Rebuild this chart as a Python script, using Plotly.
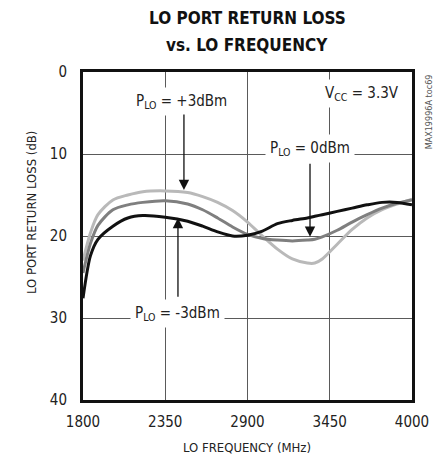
import plotly.graph_objects as go

# LO frequency (MHz)
freq = [1800, 1850, 1900, 2000, 2100, 2200, 2350, 2500, 2600, 2700, 2800, 2900,
        3000, 3100, 3200, 3300, 3350, 3400, 3500, 3600, 3700, 3800, 3900, 4000]

# return loss (dB) per LO power
rl_p3 = [23.0, 19.6, 17.4, 15.6, 15.0, 14.6, 14.5, 14.7, 15.2, 15.9, 16.9, 18.3,
         20.0, 21.6, 22.8, 23.3, 23.3, 22.8, 21.0, 19.2, 17.8, 16.8, 16.1, 15.5]
rl_0 = [24.5, 20.9, 18.7, 16.8, 16.2, 15.9, 15.7, 16.1, 16.8, 17.8, 18.9, 19.8,
        20.3, 20.5, 20.6, 20.5, 20.4, 20.1, 19.3, 18.3, 17.4, 16.6, 16.0, 15.6]
rl_m3 = [27.6, 22.4, 20.4, 18.8, 17.8, 17.5, 17.7, 18.2, 18.8, 19.5, 20.0, 19.9,
         19.4, 18.5, 18.1, 17.8, 17.6, 17.4, 17.0, 16.6, 16.2, 15.9, 15.9, 16.2]

x_ticks = [1800, 2350, 2900, 3450, 4000]
y_ticks = [0, 10, 20, 30, 40]

FONT = "DejaVu Sans Condensed"

fig = go.Figure()
for ys, col in [(rl_p3, "#b9b9b9"), (rl_0, "#7f7f7f"), (rl_m3, "#111111")]:
    fig.add_trace(go.Scatter(x=freq, y=ys, mode="lines",
                             line=dict(color=col, width=3, shape="spline", smoothing=0.8),
                             showlegend=False, hoverinfo="skip"))

labels = [
    ("P<sub>LO</sub> = +3dBm", 2456, 3.6),
    ("P<sub>LO</sub> = 0dBm", 3318, 9.3),
    ("P<sub>LO</sub> = -3dBm", 2435, 29.4),
    ("V<sub>CC</sub> = 3.3V", 3666, 2.6),
]
for txt, lx, ly in labels:
    fig.add_annotation(x=lx, y=ly, text=txt, showarrow=False, bgcolor="white",
                       borderpad=4, font=dict(family=FONT, size=15, color="#222"))

# arrows: (x, tip y, tail y)
arrows = [(2475, 14.4, 5.0), (3318, 20.1, 11.0), (2435, 17.8, 27.6)]
for axx, tip, tail in arrows:
    fig.add_annotation(x=axx, y=tip, ax=axx, ay=tail, axref="x", ayref="y",
                       text="", showarrow=True, arrowhead=2, arrowsize=1.6,
                       arrowwidth=1.3, arrowcolor="#111")

# title, two lines
for txt, ty in [("<b>LO PORT RETURN LOSS</b>", 1.165), ("<b>vs. LO FREQUENCY</b>", 1.082)]:
    fig.add_annotation(x=0.4985, y=ty, xref="paper", yref="paper", text=txt,
                       showarrow=False, xanchor="center", yanchor="middle",
                       font=dict(family=FONT, size=17, color="#111"))

fig.add_annotation(x=1.03, y=1.0, xref="paper", yref="paper", text="MAX19996A toc69",
                   showarrow=False, textangle=-90, xanchor="left", yanchor="top",
                   font=dict(family=FONT, size=9, color="#555"))

fig.add_annotation(x=-0.158, y=0.57, xref="paper", yref="paper",
                   text="LO PORT RETURN LOSS (dB)", showarrow=False, textangle=-90,
                   xanchor="center", yanchor="middle",
                   font=dict(family=FONT, size=13, color="#222"))

fig.add_annotation(x=0.4985, y=-0.146, xref="paper", yref="paper",
                   text="LO FREQUENCY (MHz)", showarrow=False,
                   xanchor="center", yanchor="middle",
                   font=dict(family=FONT, size=13, color="#222"))

fig.update_layout(
    width=441, height=460,
    margin=dict(l=83, r=29, t=72, b=60),
    plot_bgcolor="white", paper_bgcolor="white",
    font=dict(family=FONT, size=15, color="#222"),
    xaxis=dict(range=[1800, 4000], tickvals=x_ticks, showgrid=True, gridcolor="#5a5a5a",
               gridwidth=1, showline=True, linecolor="#111", linewidth=3, mirror=True,
               zeroline=False, ticks="", ticklabelstandoff=6, automargin=False),
    yaxis=dict(range=[40, 0], tickvals=y_ticks, showgrid=True, gridcolor="#5a5a5a",
               gridwidth=1, showline=True, linecolor="#111", linewidth=3, mirror=True,
               zeroline=False, ticks="", ticklabelstandoff=10, automargin=False),
)

# drop the default 8px body margin so the figure fills the window exactly
fig.write_html("out.html", config={"displayModeBar": False},
               post_script="document.body.style.margin='0';")
